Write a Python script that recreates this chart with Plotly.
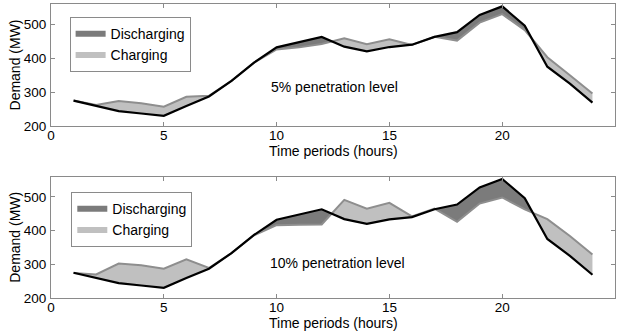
import plotly.graph_objects as go
from plotly.subplots import make_subplots

# Hourly time periods
hours = list(range(1, 25))

# Base demand without storage (MW)
base_demand = [275, 259, 244, 237, 230, 259, 287, 333, 387, 432, 447, 463,
               434, 420, 433, 440, 463, 477, 528, 553, 496, 375, 325, 269]

# Demand with storage at 5% penetration (MW)
demand_5pct = [275, 262, 274, 267, 257, 286, 289, 333, 387, 426, 432, 442,
               459, 441, 456, 439, 463, 452, 505, 530, 483, 403, 350, 296]

# Demand with storage at 10% penetration (MW)
demand_10pct = [274, 270, 302, 297, 287, 315, 289, 333, 386, 416, 417, 418,
                491, 465, 482, 442, 465, 426, 480, 498, 463, 434, 384, 329]

panel_labels = ["5% penetration level", "10% penetration level"]
x_ticks = [0, 5, 10, 15, 20, 25]
y_ticks = [200, 300, 400, 500]

DARK = "#7b7b7b"
LIGHT = "#c0c0c0"
GRAY_LINE = "#8e8e8e"
FRAME = "#8a8a8a"
FONT = "Liberation Sans, Arial, sans-serif"


def split_regions(x, base, mod):
    """Return polygons (xs, ys) for charging (mod > base) and discharging (mod < base)."""
    pts = []
    for i in range(len(x)):
        pts.append((x[i], base[i], mod[i]))
        if i < len(x) - 1:
            d0 = mod[i] - base[i]
            d1 = mod[i + 1] - base[i + 1]
            if d0 * d1 < 0:
                t = d0 / (d0 - d1)
                xc = x[i] + t * (x[i + 1] - x[i])
                yc = base[i] + t * (base[i + 1] - base[i])
                pts.append((xc, yc, yc))
    groups = []
    cur, cur_sign = [pts[0]], 0
    for j in range(len(pts) - 1):
        a, b = pts[j], pts[j + 1]
        s = (a[2] - a[1]) + (b[2] - b[1])
        s = 1 if s > 0 else (-1 if s < 0 else 0)
        if s != cur_sign and len(cur) > 1:
            groups.append((cur_sign, cur))
            cur = [a]
        cur_sign = s if s != 0 else cur_sign
        cur.append(b)
    groups.append((cur_sign, cur))

    polys = {1: ([], []), -1: ([], [])}
    for s, g in groups:
        if s == 0:
            continue
        xs = [p[0] for p in g] + [p[0] for p in reversed(g)]
        ys = [p[1] for p in g] + [p[2] for p in reversed(g)]
        px, py = polys[s]
        if px:
            px.append(None)
            py.append(None)
        px.extend(xs + [xs[0]])
        py.extend(ys + [ys[0]])
    return polys


fig = make_subplots(rows=2, cols=1, vertical_spacing=0.17)

label_pos = [(12.55, 315), (12.7, 303)]

for row, (mod, label, leg) in enumerate(
        zip([demand_5pct, demand_10pct], panel_labels, ["legend", "legend2"]), start=1):
    polys = split_regions(hours, base_demand, mod)
    for sign, name, color in [(-1, "Discharging", DARK), (1, "Charging", LIGHT)]:
        xs, ys = polys[sign]
        fig.add_trace(go.Scatter(x=xs, y=ys, mode="none", fill="toself",
                                 fillcolor=color, name=name, legend=leg,
                                 hoverinfo="skip"),
                      row=row, col=1)
    fig.add_trace(go.Scatter(x=hours, y=mod, mode="lines",
                             line=dict(color=GRAY_LINE, width=2), showlegend=False),
                  row=row, col=1)
    fig.add_trace(go.Scatter(x=hours, y=base_demand, mode="lines",
                             line=dict(color="black", width=2.2), showlegend=False),
                  row=row, col=1)
    sfx = "" if row == 1 else str(row)
    lx, ly = label_pos[row - 1]
    fig.add_annotation(x=lx, y=ly, text=label, showarrow=False,
                       xref=f"x{sfx}", yref=f"y{sfx}",
                       font=dict(size=14, color="black", family=FONT))

# x-axis titles placed just under the tick labels of each panel
for ypos in (0.499, -0.084):
    fig.add_annotation(x=0.5, y=ypos, xref="paper", yref="paper",
                       text="Time periods (hours)", showarrow=False,
                       xanchor="center", yanchor="middle",
                       font=dict(size=14, color="black", family=FONT))

# y-axis titles, centred on each panel
for ymid in ((0.585 + 1.0) / 2, 0.413 / 2):
    fig.add_annotation(x=-0.063, y=ymid, xref="paper", yref="paper",
                       text="Demand (MW)", showarrow=False, textangle=-90,
                       xanchor="center", yanchor="middle",
                       font=dict(size=14, color="black", family=FONT))

axis_common = dict(showline=True, linecolor=FRAME, linewidth=1, mirror="ticks",
                   ticks="inside", ticklen=4, tickcolor=FRAME, showgrid=False,
                   zeroline=False, tickfont=dict(size=13.5, color="black", family=FONT))
for row in (1, 2):
    fig.update_xaxes(range=[0, 25], tickvals=x_ticks, row=row, col=1,
                     ticklabelstandoff=-3, **axis_common)
    fig.update_yaxes(range=[200, 560], tickvals=y_ticks, row=row, col=1,
                     ticklabelstandoff=1, **axis_common)

legend_common = dict(xanchor="left", yanchor="top", bgcolor="white",
                     bordercolor=FRAME, borderwidth=1,
                     font=dict(size=14, family=FONT, color="black"),
                     tracegroupgap=0, itemwidth=30)
fig.update_layout(
    width=622, height=333,
    margin=dict(l=51, r=7, t=4, b=35),
    paper_bgcolor="white", plot_bgcolor="white",
    font=dict(family=FONT, color="black"),
    yaxis=dict(domain=[0.585, 1.0]),
    yaxis2=dict(domain=[0.0, 0.413]),
    legend=dict(x=0.033, y=0.955, **legend_common),
    legend2=dict(x=0.036, y=0.36, **legend_common),
)

fig.write_html("out.html")
